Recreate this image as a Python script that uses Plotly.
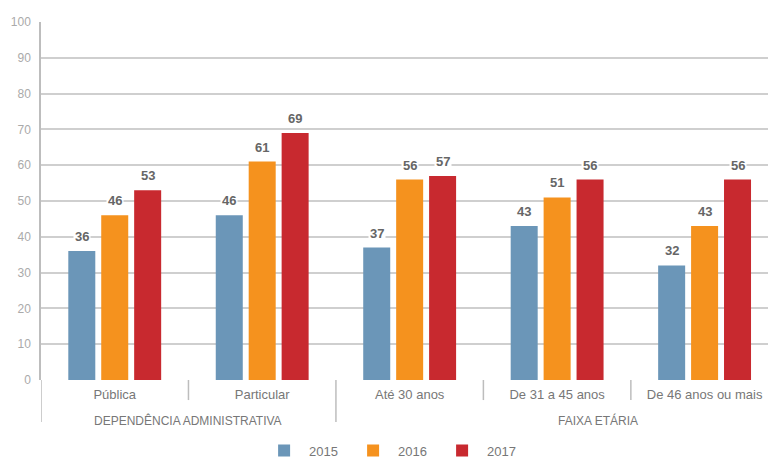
import plotly.graph_objects as go

categories = ["Pública", "Particular", "Até 30 anos", "De 31 a 45 anos", "De 46 anos ou mais"]
years = ["2015", "2016", "2017"]
v2015 = [36, 46, 37, 43, 32]
v2016 = [46, 61, 56, 51, 43]
v2017 = [53, 69, 57, 56, 56]
groups = ["DEPENDÊNCIA ADMINISTRATIVA", "FAIXA ETÁRIA"]
yticks = list(range(0, 101, 10))

colors = ["#6b96b8", "#f5921e", "#c8292f"]
series = [v2015, v2016, v2017]
xs = list(range(len(categories)))

BARGAP = 0.33
slot = (1 - BARGAP) / 3

fig = go.Figure()
for k, (name, vals) in enumerate(zip(years, series)):
    fig.add_trace(go.Bar(x=xs, y=vals, name=name, marker_color=colors[k],
                         marker_line_width=0))
    for i, v in enumerate(vals):
        fig.add_annotation(x=i + (k - 1) * slot, y=v, text=f"<b>{v}</b>",
                           showarrow=False, yanchor="bottom", yshift=5,
                           bgcolor="white", borderpad=1,
                           font=dict(size=13, color="#666666", family="Liberation Sans"))

# separators between categories
for i in range(len(categories) + 1):
    b = i - 0.5
    long = b in (-0.5, 1.5, 4.5)
    fig.add_shape(type="line", xref="x", yref="paper", x0=b, x1=b, y0=0,
                  y1=-0.117 if long else -0.056, line=dict(color="#bdbdbd", width=1.5))

fig.add_annotation(x=0.5, y=-0.14, xref="x", yref="paper", text=groups[0], showarrow=False,
                   font=dict(size=12, color="#777", family="Liberation Sans"))
fig.add_annotation(x=3.28, y=-0.14, xref="x", yref="paper", text=groups[1], showarrow=False,
                   font=dict(size=12, color="#777", family="Liberation Sans"))

fig.update_layout(
    width=768, height=461,
    margin=dict(l=41, r=0, t=22, b=81, autoexpand=False),
    plot_bgcolor="white", paper_bgcolor="white",
    barmode="group", bargap=BARGAP, bargroupgap=0.18,
    font=dict(family="Liberation Sans", color="#777"),
    xaxis=dict(tickvals=xs, ticktext=categories, range=[-0.5, 4.43],
               showgrid=False, zeroline=False, showline=False, ticks="",
               ticklabelstandoff=5,
               automargin=False, tickfont=dict(size=13, color="#777")),
    yaxis=dict(range=[0, 100], tickvals=yticks, showgrid=True, gridcolor="#cfcfcf",
               gridwidth=1.5, zeroline=False, showline=True, linecolor="#bdbdbd",
               linewidth=1.5, ticks="", ticklabelstandoff=6, automargin=False,
               tickfont=dict(size=12, color="#aaaaaa")),
    legend=dict(orientation="h", x=0.30, xanchor="left", y=-0.155, yanchor="top",
                font=dict(size=13, color="#777"), itemwidth=40, traceorder="normal",
                entrywidth=34, entrywidthmode="pixels"),
    showlegend=True,
)

fig.write_html("out.html", config={"displayModeBar": False},
               post_script="document.body.style.margin='0';document.body.style.overflow='hidden';")
